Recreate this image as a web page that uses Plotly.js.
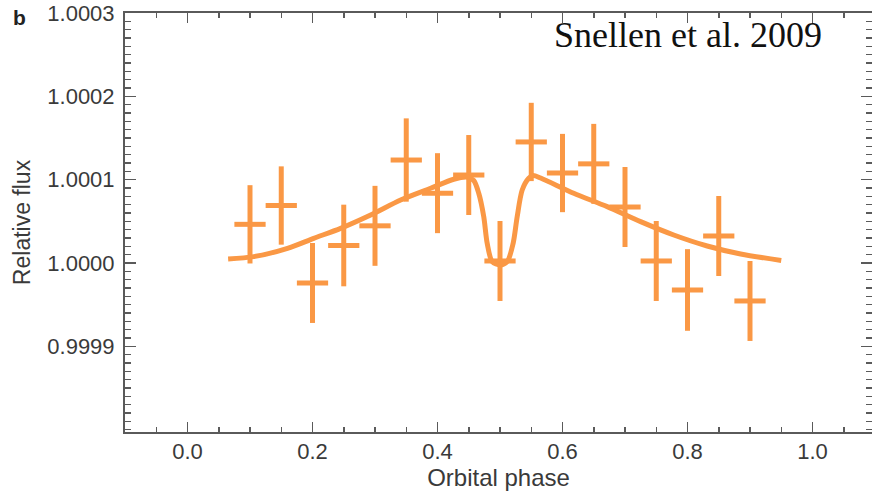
<!DOCTYPE html>
<html>
<head>
<meta charset="utf-8">
<script src="https://cdn.plot.ly/plotly-3.0.1.min.js"></script>
<style>html,body{margin:0;padding:0;background:#fff;overflow:hidden;}</style>
</head>
<body>
<div id="chart" style="width:872px;height:496px;"></div>
<script>
// Binned observations
const phase = [0.10, 0.15, 0.20, 0.25, 0.30, 0.35, 0.40, 0.45, 0.50, 0.55, 0.60, 0.65, 0.70, 0.75, 0.80, 0.85, 0.90];
const flux = [1.0000464, 1.0000690, 0.9999760, 1.0000210, 1.0000446, 1.0001236, 1.0000838, 1.0001056, 1.0000024, 1.0001453, 1.0001080, 1.0001190, 1.0000672, 1.0000024, 0.9999676, 1.0000324, 0.9999544];
const fluxErr = [0.0000470, 0.0000470, 0.0000480, 0.0000490, 0.0000480, 0.0000500, 0.0000480, 0.0000480, 0.0000480, 0.0000470, 0.0000470, 0.0000480, 0.0000480, 0.0000480, 0.0000490, 0.0000480, 0.0000480];
const binHalfWidth = 0.025;

// Model phase curve
const modelPhase = [0.065, 0.106, 0.160, 0.202, 0.245, 0.293, 0.341, 0.389, 0.426, 0.448, 0.458, 0.466, 0.474, 0.4795, 0.4875, 0.500, 0.5115, 0.521, 0.5275, 0.5355, 0.546, 0.553, 0.565, 0.618, 0.6715, 0.725, 0.778, 0.8315, 0.885, 0.950];
const modelFlux = [1.0000048, 1.0000076, 1.0000176, 1.0000296, 1.0000416, 1.0000576, 1.0000756, 1.0000897, 1.0001005, 1.0001030, 1.0000990, 1.0000837, 1.0000556, 1.0000236, 1.0000016, 0.9999976, 1.0000016, 1.0000236, 1.0000556, 1.0000876, 1.0001017, 1.0001050, 1.0001020, 1.0000837, 1.0000676, 1.0000496, 1.0000336, 1.0000204, 1.0000108, 1.0000030];

const xTickVals = [0.0, 0.2, 0.4, 0.6, 0.8, 1.0];
const xTickText = ["0.0", "0.2", "0.4", "0.6", "0.8", "1.0"];
const yTickVals = [0.9999, 1.0000, 1.0001, 1.0002, 1.0003];
const yTickText = ["0.9999", "1.0000", "1.0001", "1.0002", "1.0003"];

const orange = "#FA9845";
const axisCol = "#5a5a5a";
const textCol = "#3a3a3a";

const traces = [
  {
    x: phase, y: flux, type: "scatter", mode: "markers",
    marker: {size: 1, color: orange},
    error_y: {type: "data", array: fluxErr, visible: true, thickness: 5, width: 0, color: orange},
    error_x: {type: "constant", value: binHalfWidth, visible: true, thickness: 5, width: 0, color: orange},
    hoverinfo: "skip", showlegend: false
  },
  {
    x: modelPhase, y: modelFlux, type: "scatter", mode: "lines",
    line: {color: orange, width: 5, shape: "spline", smoothing: 0.8},
    hoverinfo: "skip", showlegend: false
  }
];

const layout = {
  width: 872, height: 496,
  margin: {l: 125, r: 0, t: 13, b: 64},
  paper_bgcolor: "#ffffff", plot_bgcolor: "#ffffff",
  font: {family: "Liberation Sans, Arial, sans-serif", color: textCol},
  xaxis: {
    range: [-0.1, 1.0952],
    tickmode: "array", tickvals: xTickVals, ticktext: xTickText,
    ticks: "inside", ticklen: 10, tickwidth: 1.5, tickcolor: axisCol,
    minor: {dtick: 0.05, tick0: 0, ticks: "inside", ticklen: 5, tickwidth: 1.5, tickcolor: axisCol, showgrid: false},
    showline: true, linecolor: axisCol, linewidth: 2, mirror: "ticks",
    showgrid: false, zeroline: false,
    tickfont: {size: 22, color: textCol}, ticklabelstandoff: -1,
    title: {text: "Orbital phase", font: {size: 24, color: textCol}, standoff: 0}
  },
  yaxis: {
    range: [0.9997971, 1.0003001],
    tickmode: "array", tickvals: yTickVals, ticktext: yTickText,
    ticks: "inside", ticklen: 11, tickwidth: 1.5, tickcolor: axisCol,
    minor: {dtick: 0.00001, tick0: 1.0, ticks: "inside", ticklen: 6, tickwidth: 1.5, tickcolor: axisCol, showgrid: false},
    showline: true, linecolor: axisCol, linewidth: 2, mirror: "ticks",
    showgrid: false, zeroline: false,
    tickfont: {size: 22, color: textCol}, ticklabelstandoff: 4,
    title: {text: "Relative flux", font: {size: 23, color: textCol}, standoff: 10}
  },
  annotations: [
    {
      text: "Snellen et al. 2009", xref: "paper", yref: "paper",
      x: 0.5716, y: 0.9475, xanchor: "left", yanchor: "middle", showarrow: false,
      font: {family: "Liberation Serif, Times New Roman, serif", size: 36, color: "#111111"}
    },
    {
      text: "<b>b</b>", xref: "paper", yref: "paper",
      x: -0.152, y: 0.99, xanchor: "left", yanchor: "middle", showarrow: false,
      font: {family: "Liberation Sans, Arial, sans-serif", size: 21, color: "#222222"}
    }
  ]
};

Plotly.newPlot("chart", traces, layout, {displayModeBar: false, staticPlot: true});
</script>
</body>
</html>
